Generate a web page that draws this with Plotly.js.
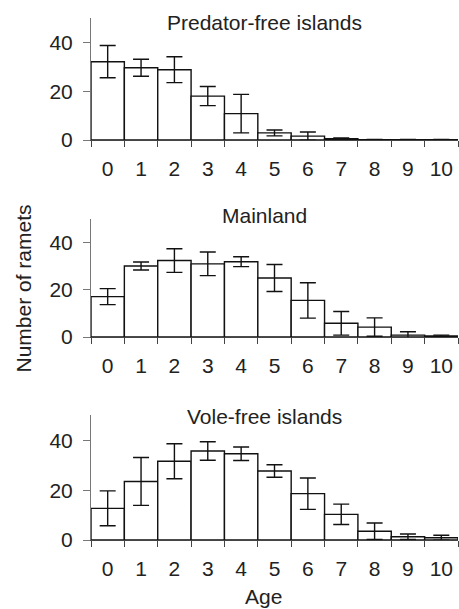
<!DOCTYPE html>
<html>
<head>
<meta charset="utf-8">
<script src="https://cdn.plot.ly/plotly-3.0.1.min.js"></script>
<style>html,body{margin:0;padding:0;background:#fff}#chart{width:459px;height:609px}</style>
</head>
<body>
<div id="chart"></div>
<script>
const ages = ['0','1','2','3','4','5','6','7','8','9','10'];
const panelTitles = ['Predator-free islands', 'Mainland', 'Vole-free islands'];
const predatorFree = [32.1, 29.6, 28.8, 18.0, 10.8, 2.9, 1.6, 0.5, 0.1, 0.1, 0.1];
const predatorFreeErr = [6.6, 3.5, 5.3, 3.9, 7.9, 1.2, 1.7, 0.3, 0.1, 0.1, 0.1];
const mainland = [17.1, 30.1, 32.4, 31.0, 31.9, 25.0, 15.5, 5.8, 4.2, 0.8, 0.4];
const mainlandErr = [3.4, 1.7, 5.0, 5.0, 2.1, 5.7, 7.5, 5.0, 3.9, 1.4, 0.4];
const voleFree = [12.7, 23.5, 31.6, 35.7, 34.6, 27.7, 18.6, 10.3, 3.5, 1.3, 0.9];
const voleFreeErr = [7.0, 9.6, 7.0, 3.7, 2.7, 2.5, 6.3, 4.1, 3.3, 1.1, 1.0];
const yTickVals = [0, 20, 40];
const xAxisTitle = 'Age';
const yAxisTitle = 'Number of ramets';

const FONT = 'Liberation Sans, Arial, sans-serif';
const FS = 21;
const W = 459, H = 609;
const xDomain = [91 / W, 458 / W];
// pixel tops/bottoms of each panel's plotting area
const panelPix = [[18, 140], [219, 337], [415.4, 540]];
const titleY = [23, 215, 416];
const series = [predatorFree, mainland, voleFree];
const errs = [predatorFreeErr, mainlandErr, voleFreeErr];

const data = [];
const layout = {
  width: W, height: H,
  margin: {l: 0, r: 0, t: 0, b: 0},
  paper_bgcolor: '#fff', plot_bgcolor: 'rgba(0,0,0,0)',
  showlegend: false,
  bargap: 0,
  font: {family: FONT, size: FS, color: '#222'},
  annotations: []
};

for (let i = 0; i < 3; i++) {
  const sfx = i === 0 ? '' : String(i + 1);
  data.push({
    type: 'bar',
    x: ages,
    y: series[i],
    xaxis: 'x' + sfx,
    yaxis: 'y' + sfx,
    marker: {color: '#ffffff', line: {color: '#111', width: 1.4}},
    error_y: {type: 'data', array: errs[i], visible: true, color: '#111', thickness: 1.4, width: 8},
    hoverinfo: 'none'
  });
  const [top, bot] = panelPix[i];
  layout['xaxis' + sfx] = {
    domain: xDomain,
    anchor: 'y' + sfx,
    type: 'category',
    tickson: 'boundaries',
    range: [-0.5, 10.5],
    showline: true, linecolor: '#444', linewidth: 1,
    ticks: 'outside', ticklen: 6, tickcolor: '#444', tickwidth: 1,
    ticklabelstandoff: 10,
    showgrid: false, zeroline: false,
    tickfont: {family: FONT, size: FS, color: '#222'},
    fixedrange: true
  };
  layout['yaxis' + sfx] = {
    domain: [1 - bot / H, 1 - top / H],
    anchor: 'x' + sfx,
    range: [0, 50],
    tickmode: 'array', tickvals: yTickVals, ticktext: yTickVals.map(String),
    showline: true, linecolor: '#777', linewidth: 1,
    ticks: 'outside', ticklen: 7, tickcolor: '#777', tickwidth: 1,
    ticklabelstandoff: 6,
    showgrid: false, zeroline: false,
    tickfont: {family: FONT, size: FS, color: '#222'},
    fixedrange: true
  };
  layout.annotations.push({
    text: panelTitles[i], xref: 'paper', yref: 'paper',
    x: 264.5 / W, y: 1 - titleY[i] / H, xanchor: 'center', yanchor: 'middle',
    showarrow: false, font: {family: FONT, size: FS, color: '#222'}
  });
}
layout.annotations.push({
  text: yAxisTitle, xref: 'paper', yref: 'paper', textangle: -90,
  x: 22.5 / W, y: 1 - 289 / H, xanchor: 'center', yanchor: 'middle',
  showarrow: false, font: {family: FONT, size: FS, color: '#222'}
});
layout.annotations.push({
  text: xAxisTitle, xref: 'paper', yref: 'paper',
  x: 263 / W, y: 1 - 596 / H, xanchor: 'center', yanchor: 'middle',
  showarrow: false, font: {family: FONT, size: FS, color: '#222'}
});

Plotly.newPlot('chart', data, layout, {staticPlot: true, displayModeBar: false});
</script>
</body>
</html>
